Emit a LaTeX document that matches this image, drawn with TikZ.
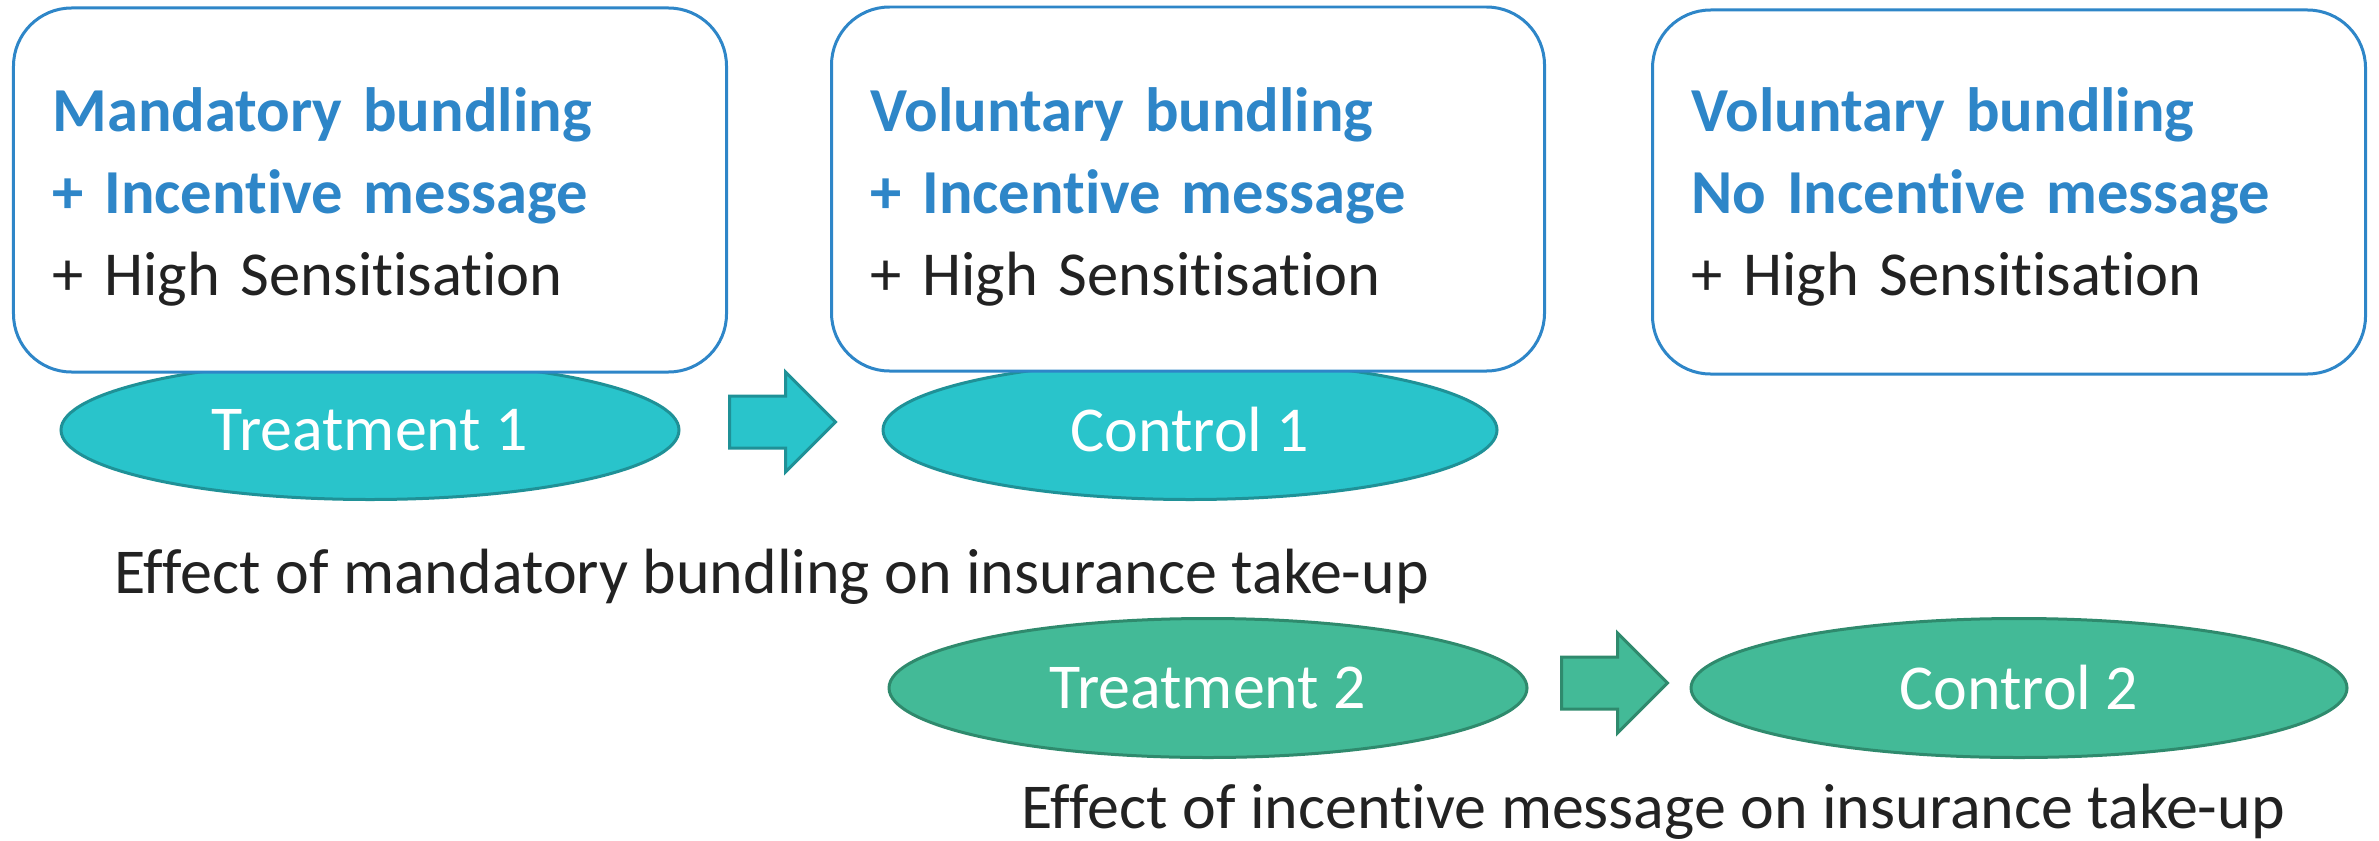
\documentclass[tikz,border=0pt]{standalone}
\usepackage{fontspec}
\setmainfont{Carlito}[Ligatures=NoCommon]
\usetikzlibrary{shapes.geometric,shapes.arrows,positioning}

\definecolor{boxblue}{HTML}{2E86C8}
\definecolor{darktext}{HTML}{222222}
\definecolor{tealfill}{HTML}{29C4CB}
\definecolor{tealline}{HTML}{1F9197}
\definecolor{greenfill}{HTML}{43BA97}
\definecolor{greenline}{HTML}{2F8A6D}

\newcommand{\bluebf}[1]{{\color{boxblue}\bfseries #1}}

\begin{document}
\begin{tikzpicture}[box_node/.style={rectangle,rounded corners=0.58cm,draw=boxblue,line width=0.03cm,fill=white,minimum width=7.13cm,minimum height=3.64cm},
	box_text/.style={text width=6.35cm,inner sep=0pt,align=left,text=darktext,font=\fontsize{17.8}{23.3}\selectfont},
	oval_node/.style={ellipse,line width=0.03cm,minimum height=1.39cm,inner sep=0pt,text=white,font=\fontsize{18.2}{22}\selectfont},
	t1_node/.style={oval_node,fill=tealfill,draw=tealline},
	t2_node/.style={oval_node,fill=greenfill,draw=greenline},
	arrow_node/.style={single arrow,single arrow head extend=0.24cm,minimum height=1.06cm,inner xsep=0pt,inner ysep=0.245cm,line width=0.03cm,anchor=tail},
	effect_label/.style={anchor=base west,inner sep=0pt,text=darktext,font=\fontsize{18.2}{22}\selectfont}]
			
			\useasboundingbox (0,0) rectangle (23.79,-8.40);
			
			% ovals first, the boxes cover their tops
			\node[t1_node,minimum width=6.18cm] (t1) at (3.70,-4.30) {Treatment 1};
			\node[t1_node,minimum width=6.14cm] (c1) at (11.90,-4.30) {Control 1};
			\node[t2_node,minimum width=6.38cm] (t2) at (12.08,-6.88) {Treatment 2};
			\node[t2_node,minimum width=6.56cm] (c2) at (20.19,-6.88) {Control 2};
			
			\node[arrow_node,fill=tealfill,draw=tealline] (a1) at (7.28,-4.22) {};
			\node[arrow_node,fill=greenfill,draw=greenline] (a2) at (15.60,-6.83) {};
			
			\node[box_node] (b1) at (3.70,-1.90) {};
			\node[box_node] (b2) at (11.88,-1.89) {};
			\node[box_node] (b3) at (20.09,-1.92) {};
			
			\node[box_text] (b1_text) at ([yshift=-0.07cm]b1.center) {\bluebf{Mandatory bundling}\\ \bluebf{+ Incentive message}\\ + High Sensitisation};
			\node[box_text] (b2_text) at ([yshift=-0.08cm]b2.center) {\bluebf{Voluntary bundling}\\ \bluebf{+ Incentive message}\\ + High Sensitisation};
			\node[box_text] (b3_text) at ([yshift=-0.05cm]b3.center) {\bluebf{Voluntary bundling}\\ \bluebf{No Incentive message}\\ + High Sensitisation};
			
			\node[effect_label] (e1) at (1.14,-5.93) {Effect of mandatory bundling on insurance take-up};
			\node[effect_label] (e2) at (10.21,-8.28) {Effect of incentive message on insurance take-up};
		\end{tikzpicture}
\end{document}
